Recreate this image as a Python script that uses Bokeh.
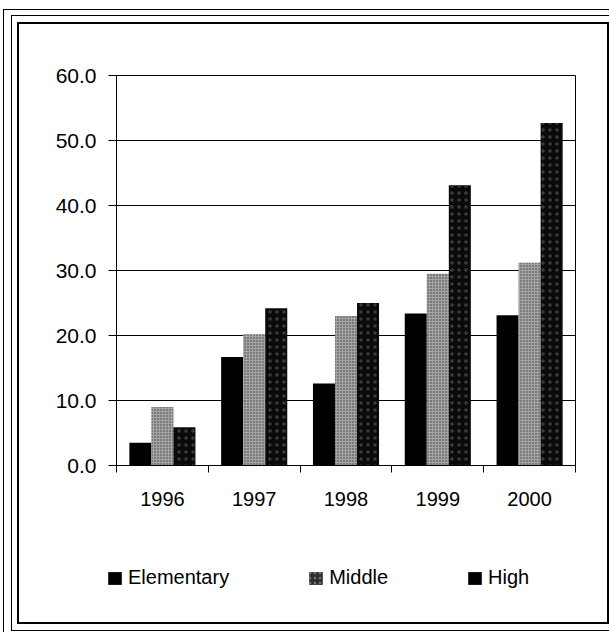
from bokeh.plotting import figure
from bokeh.layouts import column
from bokeh.models import (FixedTicker, Legend, LegendItem, Range1d, InlineStyleSheet,
                          ColumnDataSource, CustomJSTickFormatter, NumeralTickFormatter)
from bokeh.transform import dodge
from bokeh.embed import file_html
from bokeh.resources import INLINE

years = ["1996", "1997", "1998", "1999", "2000"]
elementary = [3.5, 16.7, 12.6, 23.4, 23.1]
middle = [9.0, 20.2, 23.0, 29.5, 31.2]
high = [5.9, 24.2, 25.0, 43.1, 52.7]
y_ticks = [0, 10, 20, 30, 40, 50, 60]
series = ["Elementary", "Middle", "High"]

FONT = "Liberation Sans"
styles = [dict(fill_color="black", line_color=None),
          dict(fill_color="#a4a4a4", line_color=None, hatch_pattern=".",
               hatch_color="#3a3a3a", hatch_scale=3, hatch_weight=1),
          dict(fill_color="#0a0a0a", line_color=None, hatch_pattern=".",
               hatch_color="#3c3c3c", hatch_scale=7, hatch_weight=1)]
swatch_styles = [dict(fill_color="black", line_color=None),
                 dict(fill_color="#2e2e2e", line_color=None, hatch_pattern=".",
                      hatch_color="#777777", hatch_scale=5, hatch_weight=1),
                 dict(fill_color="black", line_color=None)]

pos = [i + 0.5 for i in range(len(years))]
src = ColumnDataSource(dict(x=pos, e=elementary, m=middle, h=high))

outer_css = """
:host { position: relative; }
:host::before { content: ""; position: absolute; box-sizing: border-box;
  left: 3px; top: 9px; right: -20px; bottom: -20px;
  border-left: 1.5px solid #000; border-top: 1.5px solid #000;
  z-index: 50; pointer-events: none; }
:host::after { content: ""; position: absolute; box-sizing: border-box;
  left: 11px; top: 15px; right: -20px; bottom: 1px;
  border-left: 1.5px solid #000; border-top: 1.5px solid #000; border-bottom: 1.5px solid #000;
  z-index: 50; pointer-events: none; }
"""
inner_css = """
:host { position: relative; }
:host::after { content: ""; position: absolute; box-sizing: border-box;
  left: 17px; top: 22px; right: 0px; bottom: 8px;
  border: 2px solid #000;
  z-index: 50; pointer-events: none; }
"""

W, H_CHART, H_LEG = 609, 540, 92

p = figure(width=W, height=H_CHART, output_backend="svg", toolbar_location=None,
           x_range=Range1d(0, len(years)), y_range=Range1d(0, 60),
           min_border_left=116, min_border_right=34, min_border_top=75,
           min_border_bottom=75)
p.frame_align = False
p.background_fill_color = "white"
p.border_fill_color = "white"
p.outline_line_color = "black"
p.outline_line_width = 1

bw = 0.24
for col, off, st in zip(["e", "m", "h"], [-bw, 0, bw], styles):
    p.vbar(x=dodge('x', off, range=p.x_range), top=col, width=bw, source=src, **st)

# x axis
xa = p.xaxis[0]
xa.ticker = FixedTicker(ticks=pos, minor_ticks=list(range(len(years) + 1)))
xa.formatter = CustomJSTickFormatter(args=dict(labels=years),
                                     code="return labels[Math.floor(tick)] || '';")
xa.major_tick_out = 0
xa.major_tick_in = 0
xa.minor_tick_out = 7
xa.minor_tick_in = 0
xa.minor_tick_line_color = "black"
xa.major_label_standoff = 19
xa.major_label_text_font_size = "20px"

# y axis
ya = p.yaxis[0]
ya.ticker = FixedTicker(ticks=y_ticks)
ya.formatter = NumeralTickFormatter(format="0.0")
ya.major_tick_out = 8
ya.major_tick_in = 0
ya.minor_tick_line_color = None
ya.major_label_standoff = 12
ya.major_label_text_font_size = "21px"

for ax in (xa, ya):
    ax.axis_line_color = "black"
    ax.major_tick_line_color = "black"
    ax.major_label_text_font = FONT
    ax.major_label_text_color = "black"

p.xgrid.visible = False
p.ygrid.ticker = FixedTicker(ticks=y_ticks)
p.ygrid.grid_line_color = "black"
p.ygrid.grid_line_width = 1

# legend strip (zero-height dummy renderers that carry the swatch styles)
pl = figure(width=W, height=H_LEG, output_backend="svg", toolbar_location=None,
            x_range=Range1d(0, 1), y_range=Range1d(0, 1),
            x_axis_location=None, y_axis_location=None,
            min_border_left=0, min_border_right=0, min_border_top=0, min_border_bottom=0)
pl.frame_align = False
pl.grid.visible = False
pl.outline_line_color = None
pl.background_fill_color = "white"
pl.border_fill_color = "white"
items = []
for name, st in zip(series, swatch_styles):
    r = pl.vbar(x=[0.5], top=[0], bottom=[0], width=0.01, **st)
    items.append(LegendItem(label=name, renderers=[r]))

legend = Legend(items=items, orientation="horizontal", location=(106, 43), spacing=78,
                padding=0, margin=0, glyph_width=17, glyph_height=16,
                label_standoff=5, label_text_font=FONT, label_text_font_size="20px",
                label_text_color="black", border_line_color=None,
                background_fill_alpha=0)
pl.add_layout(legend, "center")

inner = column(p, pl, spacing=0, stylesheets=[InlineStyleSheet(css=inner_css)])
layout = column(inner, spacing=0, stylesheets=[InlineStyleSheet(css=outer_css)])

open("out.html", "w").write(file_html(layout, INLINE))
